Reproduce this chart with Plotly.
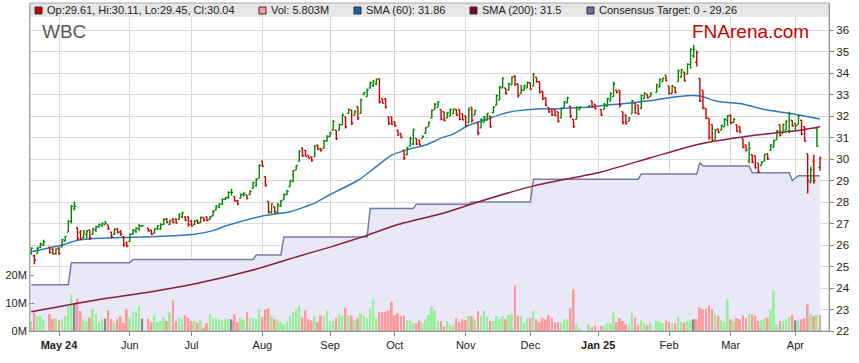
import pandas as pd
import plotly.graph_objects as go

# ---------------- data ----------------
HOLIDAYS = ["2024-04-25", "2024-06-10", "2024-12-25", "2024-12-26", "2025-01-01", "2025-01-27"]
trade_days = [d for d in pd.bdate_range("2024-04-18", "2025-04-11")
              if d.strftime("%Y-%m-%d") not in HOLIDAYS]

open_ = [
    25.60, 25.50, 25.60, 25.90, 26.00, 25.90, 25.80, 25.60,
    25.85, 25.90, 26.20, 26.60, 27.10, 27.70, 26.80, 26.60, 26.35, 26.50, 26.70, 26.50, 26.70, 26.85, 26.90, 26.95, 26.93, 26.60, 26.50, 26.75, 26.60, 26.39, 26.10,
    26.16, 26.50, 26.65, 26.75, 26.87, 26.78, 26.70, 26.55, 26.75, 26.75, 26.95, 27.20, 26.95, 27.20, 27.20, 27.20, 27.30, 27.30, 27.30,
    27.10, 26.95, 27.15, 27.05, 27.28, 27.30, 27.20, 27.35, 27.63, 27.75, 27.90, 28.12, 28.20, 28.45, 28.25, 28.05, 28.17, 28.35, 28.33, 28.33, 28.63, 28.75, 29.10,
    29.90, 29.18, 28.02, 27.50, 27.78, 27.50, 27.80, 28.10, 28.35, 28.71, 28.95, 29.50, 29.90, 30.50, 30.40, 30.18, 30.10, 30.10, 30.65, 30.49, 30.50, 30.85,
    31.05, 31.34, 31.34, 31.34, 31.60, 31.96, 32.12, 32.27, 32.04, 32.43, 32.12, 33.00, 32.90, 33.30, 33.40, 33.50, 33.74, 32.80, 32.80, 31.96, 31.96,
    31.73, 31.34, 31.19, 30.41, 30.20, 30.60, 30.70, 30.96, 30.88, 30.96, 31.20, 31.50, 31.90, 32.30, 32.40, 32.30, 32.20, 31.90, 32.00, 32.10, 32.30, 32.30, 32.10,
    32.00, 31.70, 32.40, 32.05, 31.70, 31.45, 31.70, 31.80, 32.00, 32.15, 32.50, 32.75, 33.30, 33.30, 33.20, 33.45, 33.85, 33.50, 33.05, 33.20, 33.30,
    33.55, 33.40, 33.80, 33.60, 33.15, 32.85, 32.40, 32.30, 32.30, 32.20, 31.90, 32.40, 32.60, 32.45, 31.85, 31.85, 32.30, 32.40, 32.70, 32.55,
    32.30, 32.30, 32.45, 32.70, 32.90, 33.20, 33.20, 32.20, 32.05, 31.75, 32.10, 32.60, 32.50, 32.35, 32.80, 33.00, 32.90, 33.10, 33.35, 33.60, 33.90,
    33.40, 33.05, 33.35, 33.60, 33.80, 34.05, 33.95, 34.40, 34.80, 34.50, 33.75, 33.20, 32.35, 31.90, 31.60, 30.90, 31.40, 31.35, 31.50, 31.80,
    32.05, 31.70, 31.60, 31.50, 30.95, 30.65, 29.90, 30.20, 30.15, 29.80, 29.70, 29.90, 30.25, 30.40, 30.55, 30.90, 31.60, 31.20, 31.35, 31.30, 31.80,
    31.65, 31.60, 31.80, 31.50, 30.25, 28.90, 29.90, 31.40, 29.61,
]
high = [
    25.90, 25.55, 25.92, 26.10, 26.25, 25.90, 25.85, 25.85,
    25.90, 26.30, 26.42, 27.15, 27.86, 28.02, 26.80, 26.70, 26.70, 26.70, 26.70, 26.80, 26.90, 27.00, 27.05, 27.12, 26.93, 26.62, 26.78, 26.78, 26.70, 26.39, 26.16,
    26.54, 26.74, 26.82, 26.98, 26.93, 26.78, 26.70, 26.78, 26.93, 27.01, 27.24, 27.24, 27.16, 27.24, 27.24, 27.47, 27.55, 27.32, 27.32,
    27.16, 27.16, 27.16, 27.32, 27.28, 27.32, 27.35, 27.63, 27.86, 27.94, 28.17, 28.22, 28.50, 28.60, 28.25, 28.09, 28.40, 28.45, 28.33, 28.56, 28.94, 29.10, 29.76,
    29.90, 29.18, 28.02, 27.94, 27.78, 27.94, 28.09, 28.40, 28.56, 29.02, 29.49, 29.72, 30.41, 30.54, 30.41, 30.18, 30.10, 30.65, 30.65, 30.49, 30.88, 31.11,
    31.27, 31.81, 31.34, 31.65, 32.12, 31.96, 32.35, 32.27, 32.27, 32.43, 32.81, 33.12, 33.28, 33.59, 33.67, 33.74, 33.74, 32.81, 32.81, 31.96, 31.96,
    31.73, 31.34, 31.19, 30.41, 30.57, 31.03, 31.42, 30.96, 30.88, 31.10, 31.50, 31.75, 32.30, 32.60, 32.70, 32.30, 32.20, 32.20, 32.35, 32.35, 32.30, 32.30, 32.10,
    32.00, 32.40, 32.40, 32.30, 31.70, 31.90, 32.00, 32.15, 32.00, 32.45, 33.00, 33.40, 33.80, 33.30, 33.55, 33.85, 33.90, 33.50, 33.45, 33.45, 33.60,
    33.55, 34.00, 33.80, 33.60, 33.15, 32.85, 32.40, 32.30, 32.30, 32.20, 32.40, 32.70, 32.90, 32.45, 31.85, 32.45, 32.45, 32.50, 32.70, 32.55,
    32.30, 32.60, 32.85, 33.10, 33.60, 33.20, 33.20, 32.20, 32.05, 31.95, 32.75, 32.60, 32.50, 33.00, 33.10, 33.00, 33.10, 33.50, 33.75, 33.80, 33.90,
    33.40, 33.45, 33.35, 34.15, 34.20, 34.05, 34.45, 35.15, 35.30, 35.05, 33.77, 33.20, 32.35, 31.90, 31.60, 31.40, 31.40, 31.60, 31.90, 32.05,
    32.05, 31.90, 31.60, 31.50, 30.95, 30.65, 30.80, 30.20, 30.15, 29.80, 29.90, 30.25, 30.25, 30.70, 30.90, 31.35, 31.60, 31.65, 31.80, 32.20, 31.80,
    31.65, 32.05, 31.80, 31.50, 30.25, 29.65, 30.20, 31.44, 30.11,
]
low = [
    25.55, 25.10, 25.60, 25.85, 25.95, 25.60, 25.55, 25.55,
    25.55, 25.90, 26.15, 26.60, 27.00, 27.60, 26.23, 26.23, 26.30, 26.30, 26.23, 26.50, 26.60, 26.80, 26.85, 26.95, 26.70, 26.31, 26.47, 26.54, 26.43, 25.92, 25.90,
    26.16, 26.47, 26.56, 26.66, 26.85, 26.62, 26.47, 26.54, 26.70, 26.70, 26.93, 27.01, 26.93, 27.01, 27.00, 27.16, 27.24, 27.10, 26.85,
    26.85, 26.93, 26.98, 27.04, 27.09, 27.12, 27.16, 27.35, 27.63, 27.71, 27.86, 28.09, 28.15, 28.30, 28.02, 27.86, 28.17, 28.25, 28.12, 28.33, 28.63, 28.71, 29.10,
    29.64, 28.71, 27.47, 27.47, 27.47, 27.47, 27.78, 28.09, 28.33, 28.71, 28.94, 29.49, 29.87, 30.10, 30.10, 30.03, 29.87, 30.10, 30.41, 30.34, 30.49, 30.80,
    31.03, 31.34, 30.88, 31.34, 31.58, 31.42, 32.12, 31.58, 32.04, 31.81, 32.12, 32.97, 32.89, 33.28, 33.36, 33.43, 32.58, 32.58, 32.35, 31.58, 31.58,
    31.50, 31.07, 30.96, 29.95, 30.18, 30.57, 30.65, 30.65, 30.65, 30.96, 31.20, 31.50, 31.90, 32.30, 32.40, 31.80, 31.75, 31.90, 32.00, 32.10, 32.00, 31.80, 31.80,
    31.50, 31.70, 31.70, 32.05, 31.10, 31.45, 31.70, 31.80, 31.45, 32.15, 32.50, 32.75, 33.30, 33.00, 33.20, 33.45, 33.40, 32.85, 33.05, 33.20, 33.30,
    33.20, 33.40, 33.55, 33.05, 32.75, 32.45, 32.15, 32.00, 32.00, 31.70, 31.90, 32.40, 32.60, 31.90, 31.45, 31.85, 32.30, 32.40, 32.40, 32.30,
    32.00, 32.30, 32.45, 32.70, 32.90, 33.05, 32.40, 31.60, 31.60, 31.75, 32.10, 32.10, 32.05, 32.35, 32.80, 32.80, 32.90, 33.10, 33.35, 33.60, 33.60,
    33.00, 33.05, 33.05, 33.60, 33.80, 33.60, 33.95, 34.20, 34.70, 34.30, 32.65, 32.30, 31.85, 30.90, 30.80, 30.90, 31.20, 31.35, 31.50, 31.55,
    31.60, 31.66, 31.25, 31.20, 30.50, 30.35, 29.80, 29.80, 29.55, 29.35, 29.70, 29.90, 29.95, 30.40, 30.55, 30.90, 31.05, 31.20, 31.35, 31.20, 31.50,
    31.35, 31.60, 31.10, 30.80, 28.40, 28.90, 28.85, 30.56, 29.45,
]
close = [
    25.85, 25.30, 25.85, 26.05, 26.15, 25.65, 25.60, 25.80,
    25.60, 26.25, 26.40, 27.10, 27.80, 27.80, 26.30, 26.28, 26.60, 26.65, 26.35, 26.75, 26.85, 26.95, 27.00, 27.00, 26.75, 26.40, 26.72, 26.60, 26.50, 26.00, 25.95,
    26.50, 26.70, 26.78, 26.90, 26.90, 26.65, 26.50, 26.75, 26.90, 26.95, 27.20, 27.05, 27.12, 27.05, 27.02, 27.42, 27.50, 27.15, 26.95,
    26.90, 27.10, 27.02, 27.28, 27.15, 27.14, 27.30, 27.55, 27.82, 27.90, 28.12, 28.20, 28.45, 28.45, 28.05, 27.90, 28.35, 28.40, 28.18, 28.50, 28.90, 29.05, 29.70,
    29.66, 28.78, 27.55, 27.90, 27.55, 27.88, 28.05, 28.35, 28.50, 29.00, 29.45, 29.70, 30.38, 30.15, 30.12, 30.05, 29.95, 30.60, 30.45, 30.40, 30.85, 31.05,
    31.22, 31.75, 30.95, 31.60, 32.05, 31.50, 32.30, 31.65, 32.20, 31.90, 32.75, 33.10, 33.20, 33.55, 33.60, 33.70, 32.65, 32.60, 32.40, 31.65, 31.62,
    31.55, 31.12, 31.00, 30.05, 30.50, 30.95, 31.38, 30.70, 30.66, 31.05, 31.45, 31.70, 32.25, 32.55, 32.65, 31.85, 31.80, 32.15, 32.30, 32.32, 32.05, 31.85, 31.82,
    31.55, 32.30, 31.80, 32.25, 31.20, 31.85, 31.95, 32.10, 31.50, 32.40, 32.95, 33.35, 33.75, 33.05, 33.50, 33.80, 33.45, 32.95, 33.20, 33.40, 33.55,
    33.25, 33.95, 33.60, 33.10, 32.80, 32.50, 32.20, 32.05, 32.02, 31.75, 32.35, 32.65, 32.85, 32.00, 31.50, 32.40, 32.42, 32.48, 32.45, 32.35,
    32.05, 32.55, 32.80, 33.05, 33.50, 33.10, 32.50, 31.70, 31.65, 31.90, 32.70, 32.15, 32.10, 32.95, 33.05, 32.85, 33.05, 33.45, 33.70, 33.75, 33.65,
    33.05, 33.40, 33.10, 34.10, 34.15, 33.65, 34.40, 35.10, 35.10, 34.95, 32.70, 32.40, 31.90, 31.00, 30.85, 31.35, 31.25, 31.55, 31.85, 32.00,
    31.70, 31.85, 31.30, 31.25, 30.55, 30.40, 30.50, 29.85, 29.60, 29.40, 29.85, 30.20, 30.00, 30.65, 30.85, 31.30, 31.10, 31.60, 31.75, 32.10, 31.55,
    31.55, 32.00, 31.15, 30.85, 29.00, 29.50, 29.00, 30.60, 30.04,
]
volume_m = [
    3.6, 6.6, 5.4, 5.4, 4.2, 6.0, 4.2, 4.6, 4.0, 4.2, 5.4, 8.8, 13.2, 9.8, 11.6, 7.2, 4.2, 3.6, 4.8, 8.0,
    6.0, 3.2, 4.2, 4.4, 7.4, 4.2, 3.2, 4.2, 5.2, 3.0, 7.8, 4.8, 7.0, 7.0, 8.8, 4.4, 4.4, 3.2, 5.6, 3.2,
    3.6, 4.8, 3.6, 6.6, 11.0, 3.6, 4.8, 4.4, 5.6, 4.8, 3.6, 3.6, 3.0, 3.8, 1.2, 2.8, 6.2, 4.6, 4.6, 4.2,
    3.8, 4.2, 4.2, 4.2, 6.0, 3.2, 4.8, 4.0, 6.8, 4.6, 4.8, 4.4, 7.8, 5.0, 7.8, 8.2, 5.6, 4.2, 3.8, 3.2,
    2.6, 3.6, 5.4, 6.6, 8.0, 9.0,
    4.8, 7.4, 4.2, 3.8, 5.2, 3.2, 5.6, 5.6, 7.4, 3.6, 3.6, 4.8, 6.0, 5.6, 8.4, 5.6, 5.6, 4.0, 4.6, 6.4,
    5.6, 4.6, 8.0, 11.4, 4.8, 6.8, 6.8, 7.0, 7.4, 10.4, 5.6, 6.4, 5.4, 5.6, 3.8, 3.8, 2.8, 2.8, 3.8, 2.8,
    4.2, 5.8, 8.8, 7.4, 3.6, 3.6, 1.6, 3.6, 2.0, 2.0, 4.6, 3.2, 4.2, 4.0, 5.4, 5.4, 4.2, 7.2, 5.4, 7.2,
    5.0, 3.6, 3.6, 5.4, 4.4, 5.4, 4.2, 5.8, 6.0, 16.4, 5.6, 5.4, 3.2, 4.6, 4.6, 7.2, 4.2, 3.2, 4.6, 4.2,
    5.6, 4.8, 3.2, 3.2, 3.0, 4.2, 4.2, 8.2, 15.0, 2.4, 1.0, 2.4, 1.4, 2.0,
    1.8, 2.0, 2.8, 2.8, 6.6, 3.2, 4.6, 3.6, 2.4, 2.4, 6.4, 4.8, 2.0, 3.8, 2.8, 2.0, 2.8, 3.8, 3.6, 2.8,
    3.8, 3.2, 2.8, 2.8, 4.8, 3.2, 3.0, 3.6, 3.8, 4.2, 4.2, 8.4, 7.8, 8.0, 9.2, 7.8, 6.0, 5.4, 3.8, 3.2,
    11.4, 4.2, 3.6, 4.6, 4.2, 5.6, 4.6, 6.4, 6.0, 5.6, 3.6, 3.8, 4.4, 4.8, 7.8, 14.4, 2.4, 3.6, 3.6, 4.2,
    5.0, 5.8, 3.8, 3.8, 4.2, 4.6, 9.6, 6.2, 5.4, 5.8, 5.8,
]

sma60_dates = ["2024-04-18", "2024-05-02", "2024-05-09", "2024-05-20", "2024-06-04", "2024-06-19",
               "2024-07-02", "2024-07-10", "2024-07-16", "2024-08-01", "2024-08-14", "2024-08-26",
               "2024-09-02", "2024-09-13", "2024-09-23", "2024-09-30", "2024-10-08", "2024-10-15",
               "2024-10-22", "2024-10-28", "2024-11-04", "2024-11-12", "2024-11-19", "2024-11-26",
               "2024-12-05", "2024-12-12", "2024-12-19", "2024-12-30", "2025-01-03", "2025-01-13",
               "2025-01-24", "2025-01-31", "2025-02-12", "2025-02-17", "2025-02-25", "2025-03-06",
               "2025-03-18", "2025-03-31", "2025-04-11"]
sma60_vals = [25.69, 26.00, 26.22, 26.31, 26.36, 26.42, 26.50, 26.67, 26.88, 27.35, 27.55, 27.95,
              28.35, 29.00, 29.65, 30.18, 30.47, 30.65, 30.97, 31.17, 31.57, 31.86, 32.10, 32.25,
              32.33, 32.33, 32.37, 32.42, 32.50, 32.57, 32.72, 32.83, 32.95, 32.93, 32.67, 32.58,
              32.30, 32.10, 31.86]

sma200_dates = ["2024-04-18", "2024-05-20", "2024-06-12", "2024-07-03", "2024-07-26", "2024-08-19",
                "2024-09-02", "2024-09-17", "2024-10-02", "2024-10-22", "2024-11-07", "2024-12-03",
                "2025-01-02", "2025-01-24", "2025-02-17", "2025-03-11", "2025-04-03", "2025-04-11"]
sma200_vals = [22.90, 23.47, 23.83, 24.22, 24.80, 25.49, 25.90, 26.40, 26.95, 27.45, 28.00, 28.75,
               29.40, 30.06, 30.70, 31.07, 31.35, 31.50]

cons_dates = ["2024-04-18", "2024-05-06", "2024-05-07", "2024-06-03", "2024-06-04", "2024-07-29",
              "2024-07-30", "2024-08-09", "2024-08-12", "2024-09-18", "2024-09-19", "2024-10-09",
              "2024-10-10", "2024-11-04", "2024-11-05", "2024-12-02", "2024-12-03", "2025-01-20",
              "2025-01-21", "2025-02-14", "2025-02-17", "2025-02-18", "2025-03-11", "2025-03-12",
              "2025-03-28", "2025-03-31", "2025-04-02", "2025-04-11"]
cons_vals = [24.15, 24.15, 25.18, 25.18, 25.33, 25.33, 25.53, 25.53, 26.37, 26.37, 27.70, 27.70,
             27.90, 27.90, 28.00, 28.00, 29.06, 29.06, 29.30, 29.30, 29.83, 29.67, 29.67, 29.36,
             29.36, 29.00, 29.22, 29.22]

month_ticks = ["2024-05-01", "2024-06-03", "2024-07-01", "2024-08-01", "2024-09-02", "2024-10-01",
               "2024-11-01", "2024-12-02", "2025-01-01", "2025-02-03", "2025-03-03", "2025-04-01"]
month_labels = ["<b>May 24</b>", "Jun", "Jul", "Aug", "Sep", "Oct", "Nov", "Dec",
                "<b>Jan 25</b>", "Feb", "Mar", "Apr"]

legend_items = [
    ("Op:29.61, Hi:30.11, Lo:29.45, Cl:30.04", "#cc0000"),
    ("Vol: 5.803M", "#ff9999"),
    ("SMA (60): 31.86", "#1a5f9e"),
    ("SMA (200): 31.5", "#800026"),
    ("Consensus Target: 0 - 29.26", "#6e6e9e"),
]

# ---------------- styling ----------------
GREEN, RED = "#008800", "#cc0000"
VGREEN, VRED, VGRAY = "#99ee99", "#ff9999", "#888888"
FONT = "Liberation Sans, Arial, sans-serif"

n = len(trade_days)
prev_close = [open_[0]] + close[:-1]
vol_colors, up_idx, dn_idx = [], [], []
for i in range(n):
    if close[i] > prev_close[i]:
        vol_colors.append(VGREEN); up_idx.append(i)
    elif close[i] < prev_close[i]:
        vol_colors.append(VRED); dn_idx.append(i)
    else:
        vol_colors.append(VGRAY); up_idx.append(i)

W, H = 859, 363
ML, MR, MT, MB = 30, 30, 3, 32
PW, PH = W - ML - MR, H - MT - MB


def px(x):
    return (x - ML) / PW


def py(y):
    return (H - MB - y) / PH


PRICE_RANGE = [22, 37.256]
VOL_RANGE = [0, 118.2e6]

fig = go.Figure()

# consensus target (filled) on base axis
fig.add_trace(go.Scatter(x=cons_dates, y=cons_vals, mode="lines", fill="tozeroy",
                         fillcolor="#e8e8f6", line=dict(color="#7a7aaa", width=1.5),
                         yaxis="y", hoverinfo="skip"))
# volume
fig.add_trace(go.Bar(x=trade_days, y=[v * 1e6 for v in volume_m], marker_color=vol_colors,
                     marker_line_width=0, width=0.62 * 86400000, yaxis="y2", hoverinfo="skip"))
# moving averages
fig.add_trace(go.Scatter(x=sma200_dates, y=sma200_vals, mode="lines",
                         line=dict(color="#8c1c40", width=1.5, shape="spline", smoothing=0.6),
                         yaxis="y3", hoverinfo="skip"))
fig.add_trace(go.Scatter(x=sma60_dates, y=sma60_vals, mode="lines",
                         line=dict(color="#2b7bba", width=1.5, shape="spline", smoothing=0.6),
                         yaxis="y3", hoverinfo="skip"))
# OHLC bars coloured vs previous close
for idx, col in ((up_idx, GREEN), (dn_idx, RED)):
    fig.add_trace(go.Ohlc(
        x=[trade_days[i] for i in idx],
        open=[open_[i] for i in idx], high=[high[i] for i in idx],
        low=[low[i] for i in idx], close=[close[i] for i in idx],
        increasing=dict(line=dict(color=col, width=1.4)),
        decreasing=dict(line=dict(color=col, width=1.4)),
        tickwidth=0.5, yaxis="y4", hoverinfo="skip"))

shapes = [
    dict(type="rect", xref="paper", yref="paper", x0=0, x1=1, y0=py(17), y1=1,
         fillcolor="#e6e6e6", line=dict(width=0), layer="above"),
    dict(type="rect", xref="paper", yref="paper", x0=0, x1=1, y0=0, y1=1,
         fillcolor="rgba(0,0,0,0)", line=dict(color="#a8a8a8", width=1), layer="above"),
]
annotations = []
leg_x = [35, 259, 354, 470, 587]
for (text, col), x0 in zip(legend_items, leg_x):
    shapes.append(dict(type="rect", xref="paper", yref="paper", x0=px(x0), x1=px(x0 + 7),
                       y0=py(14), y1=py(7), fillcolor=col, line=dict(color="#333333", width=1),
                       layer="above"))
    annotations.append(dict(x=px(x0 + 10), y=py(10.5), xref="paper", yref="paper", text=text,
                            showarrow=False, xanchor="left", yanchor="middle",
                            font=dict(size=11, color="#222222", family=FONT)))
annotations.append(dict(x=px(40), y=py(32), xref="paper", yref="paper", text="WBC",
                        showarrow=False, xanchor="left", yanchor="middle",
                        font=dict(size=19, color="#5a5a5a", family=FONT)))
annotations.append(dict(x=px(690), y=py(32), xref="paper", yref="paper", text="FNArena.com",
                        showarrow=False, xanchor="left", yanchor="middle",
                        font=dict(size=19, color="#cc0000", family=FONT)))

fig.update_layout(
    width=W, height=H, margin=dict(l=ML, r=MR, t=MT, b=MB),
    paper_bgcolor="white", plot_bgcolor="white", showlegend=False,
    font=dict(family=FONT, size=11, color="#222222"),
    shapes=shapes, annotations=annotations,
    xaxis=dict(type="date", range=["2024-04-17 14:00", "2025-04-15 22:00"],
               rangebreaks=[dict(bounds=["sat", "mon"])],
               tickmode="array", tickvals=month_ticks, ticktext=month_labels,
               showgrid=True, gridcolor="#dadada", gridwidth=1,
               ticks="outside", ticklen=4, tickcolor="#888888",
               showline=True, linecolor="#888888", zeroline=False,
               tickfont=dict(size=11, color="#222222"), rangeslider=dict(visible=False)),
    yaxis=dict(range=PRICE_RANGE, visible=False, showgrid=False, zeroline=False),
    yaxis2=dict(range=VOL_RANGE, overlaying="y", side="left", tickmode="array",
                tickvals=[0, 10e6, 20e6], ticktext=["0M", "10M", "20M"],
                showgrid=False, zeroline=False, ticks="inside", ticklen=4, tickcolor="#888888",
                showline=True, linecolor="#a8a8a8", tickfont=dict(size=11, color="#222222")),
    yaxis3=dict(range=PRICE_RANGE, overlaying="y", side="right", tickmode="array",
                tickvals=list(range(22, 37)), showgrid=True, gridcolor="#dadada", gridwidth=1,
                zeroline=False, ticks="outside", ticklen=4, tickcolor="#888888",
                showline=True, linecolor="#888888", tickfont=dict(size=11.5, color="#222222")),
    yaxis4=dict(range=PRICE_RANGE, overlaying="y", visible=False, showgrid=False, zeroline=False),
)

fig.write_html("out.html", config={"displayModeBar": False},
               post_script="document.body.style.margin='0px';document.body.style.padding='0px';")
